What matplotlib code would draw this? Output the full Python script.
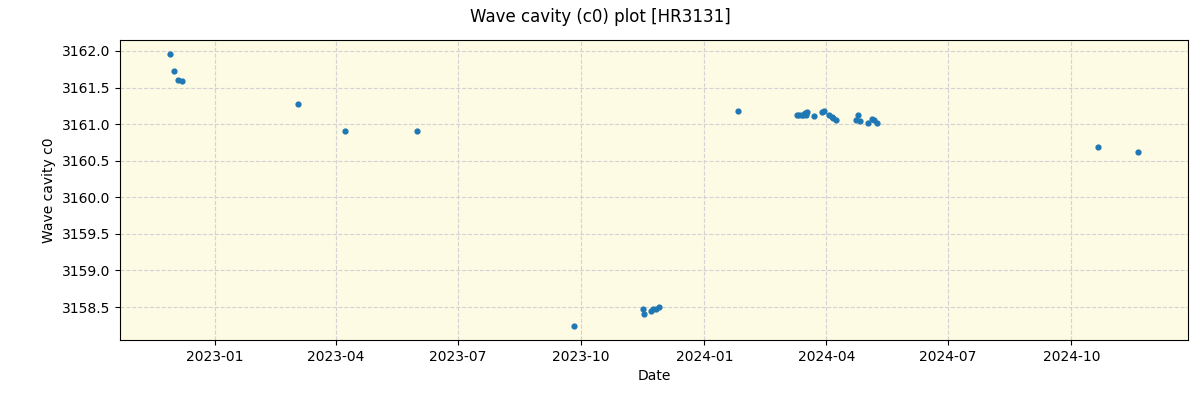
import matplotlib
matplotlib.use('Agg')
import matplotlib.pyplot as plt
import matplotlib.dates as mdates
import pandas as pd

# dates and c0 values
dates = ['2022-11-28', '2022-12-01', '2022-12-04', '2022-12-07', '2023-03-04',
         '2023-04-08', '2023-06-01', '2023-09-26', '2023-11-16', '2023-11-17',
         '2023-11-22', '2023-11-24', '2023-11-26', '2023-11-28', '2024-01-26',
         '2024-03-10', '2024-03-12', '2024-03-14', '2024-03-15', '2024-03-16',
         '2024-03-18', '2024-03-17', '2024-03-23', '2024-03-29', '2024-03-30',
         '2024-04-03', '2024-04-05', '2024-04-06', '2024-04-08', '2024-04-23',
         '2024-04-25', '2024-04-26', '2024-05-02', '2024-05-05', '2024-05-07',
         '2024-05-09', '2024-10-21', '2024-11-20']
c0 = [3161.96, 3161.73, 3161.61, 3161.59, 3161.27,
      3160.91, 3160.91, 3158.24, 3158.48, 3158.40,
      3158.44, 3158.47, 3158.48, 3158.50, 3161.18,
      3161.13, 3161.13, 3161.13, 3161.12, 3161.15,
      3161.16, 3161.12, 3161.11, 3161.16, 3161.18,
      3161.12, 3161.10, 3161.08, 3161.06, 3161.06,
      3161.13, 3161.04, 3161.01, 3161.07, 3161.05,
      3161.02, 3160.69, 3160.62]

x = pd.to_datetime(dates)

fig = plt.figure(figsize=(12, 4), dpi=100)
ax = fig.add_axes([0.1, 0.15, 0.89, 0.75])
ax.set_facecolor('#fdfbe3')
ax.scatter(x, c0, s=12, color='#1f77b4', zorder=3)
ax.grid(True, linestyle='--', color='lightgray', zorder=0)
ax.set_axisbelow(True)

ax.set_xlim(pd.Timestamp('2022-10-22'), pd.Timestamp('2024-12-27'))
ax.set_ylim(3158.05, 3162.15)
ax.xaxis.set_major_locator(mdates.MonthLocator(bymonth=[1, 4, 7, 10]))
ax.xaxis.set_major_formatter(mdates.DateFormatter('%Y-%m'))

ax.set_xlabel('Date')
ax.set_ylabel('Wave cavity c0')
fig.suptitle('Wave cavity (c0) plot [HR3131]')

fig.savefig('out.png')
